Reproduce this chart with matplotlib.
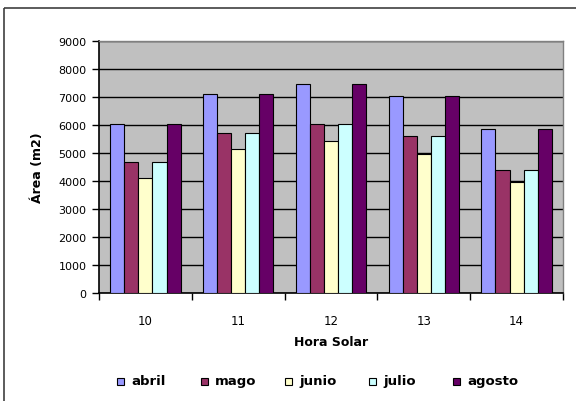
import numpy as np
import matplotlib.pyplot as plt
from matplotlib.patches import Rectangle

horas = ["10", "11", "12", "13", "14"]
meses = ["abril", "mago", "junio", "julio", "agosto"]
abril = [6050, 7090, 7450, 7040, 5840]
mayo = [4690, 5720, 6050, 5600, 4400]
junio = [4100, 5150, 5430, 4980, 3950]
julio = [4690, 5720, 6050, 5600, 4400]
agosto = [6050, 7090, 7450, 7040, 5840]
colores = ["#9999FF", "#993366", "#FFFFCC", "#CCFFFF", "#660066"]

W, H = 576, 402
fig = plt.figure(figsize=(W / 100, H / 100), dpi=100)
fig.patch.set_facecolor("white")

# outer chart frame (runs off the right/bottom edge)
fig.patches.append(Rectangle((4 / W, 1 - 9 / H), 1.2, -1.2, transform=fig.transFigure,
                             fill=False, edgecolor="#404040", linewidth=1.2))

# plot area in pixels: left 99, right 563, top 42, bottom 294
ax = fig.add_axes([99 / W, 1 - 294 / H, 464 / W, 252 / H])
ax.set_facecolor("#C0C0C0")

x = np.arange(len(horas))
series = [abril, mayo, junio, julio, agosto]
bw = 0.152
for i, (vals, col) in enumerate(zip(series, colores)):
    ax.bar(x + (i - 2) * bw, vals, width=bw, color=col,
           edgecolor="black", linewidth=0.8, zorder=3)

ax.set_ylim(0, 9000)
ax.set_xlim(-0.5, len(horas) - 0.5)
ax.set_yticks(range(0, 9001, 1000))
ax.yaxis.grid(True, color="black", linewidth=1.0, zorder=0)
ax.set_axisbelow(True)

# category boundaries get tick marks, labels sit at the centres
ax.set_xticks(np.arange(-0.5, len(horas)))
ax.set_xticklabels([])
ax.set_xticks(x, minor=True)
ax.set_xticklabels(horas, minor=True)
ax.tick_params(axis="x", which="major", length=5, width=1, color="black", direction="out")
ax.tick_params(axis="x", which="minor", length=0, pad=15, labelsize=8.5)
ax.tick_params(axis="y", length=5, width=1, color="black", direction="out",
               pad=4, labelsize=8)

for s in ["top", "right"]:
    ax.spines[s].set_color("#808080")
    ax.spines[s].set_linewidth(1.0)
for s in ["left", "bottom"]:
    ax.spines[s].set_color("black")
    ax.spines[s].set_linewidth(1.2)

fig.text(37 / W, 1 - 168 / H, "Área (m2)", rotation=90, ha="center", va="center",
         fontsize=9, fontweight="bold")
fig.text(331 / W, 1 - 343 / H, "Hora Solar", ha="center", va="center",
         fontsize=9, fontweight="bold")

# legend row
for i, (m, col) in enumerate(zip(meses, colores)):
    lx = 117 + i * 84
    fig.patches.append(Rectangle((lx / W, 1 - 386 / H), 7 / W, 7 / H,
                                 transform=fig.transFigure, facecolor=col,
                                 edgecolor="black", linewidth=0.8))
    fig.text((lx + 14) / W, 1 - 382 / H, m, ha="left", va="center",
             fontsize=9.5, fontweight="bold")

fig.savefig("out.png", dpi=100)
